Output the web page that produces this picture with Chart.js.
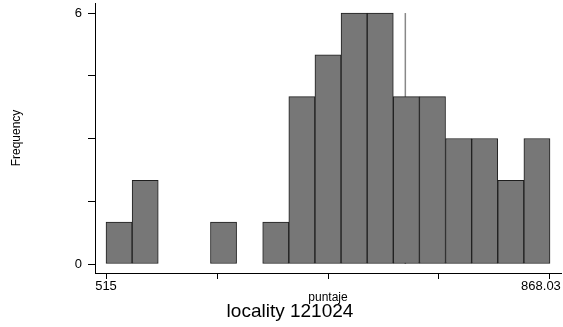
<!DOCTYPE html>
<html>
<head>
<meta charset="utf-8">
<script src="https://cdn.jsdelivr.net/npm/chart.js@4/dist/chart.umd.min.js"></script>
<style>
  body { margin: 0; background: #fff; }
  #wrap { width: 563px; height: 327px; }
</style>
</head>
<body>
<div id="wrap"><canvas id="histChart"></canvas></div>
<script>
// histogram of puntaje, 17 bins between 515 and 868.03
const binStart = 515;
const binEnd = 868.03;
const counts = [1, 2, 0, 0, 1, 0, 1, 4, 5, 6, 6, 4, 4, 3, 3, 2, 3];
const refLine = 753;

const xTicks = [515, 603.2575, 691.515, 779.7725, 868.03];
// trailing spaces push the last label left so it stays inside the canvas
const xTickLabels = ["515", "", "", "", "868.03     "];
const yTicks = [0, 1.5, 3, 4.5, 6];
const yTickLabels = ["0", "", "", "", "6"];

const captionText = "locality 121024";
const fontFamily = '"Liberation Sans", Arial, Helvetica, sans-serif';

let binWidth = (binEnd - binStart) / counts.length;
let barData = counts.map((c, i) => ({ x: binStart + binWidth * (i + 0.5), y: c }));

// no extra room for the end labels, the plot box is fixed
function noLabelPadding(s) {
    s.paddingTop = 0;
    s.paddingBottom = 0;
    s.paddingLeft = 0;
    s.paddingRight = 0;
}

const captionPlugin = {
    id: "caption",
    afterDraw(chart) {
        let ctx = chart.ctx;
        ctx.save();
        ctx.font = "19px " + fontFamily;
        ctx.fillStyle = "#000";
        ctx.textAlign = "center";
        ctx.textBaseline = "middle";
        ctx.fillText(captionText, 290, 312);
        ctx.restore();
    }
};

new Chart(document.getElementById("histChart"), {
    type: "bar",
    data: {
        datasets: [{
            data: barData,
            backgroundColor: "#777777",
            borderColor: "#1e1e1e",
            borderWidth: 1,
            borderSkipped: false,
            barPercentage: 1,
            categoryPercentage: 1,
            order: 1
        }, {
            type: "line",
            data: [{ x: refLine, y: 0 }, { x: refLine, y: 6 }],
            borderColor: "#888888",
            borderWidth: 1.5,
            pointRadius: 0,
            order: 2
        }]
    },
    options: {
        responsive: true,
        maintainAspectRatio: false,
        animation: false,
        layout: { padding: { top: 3, right: 2, left: 0, bottom: 0 } },
        plugins: {
            legend: { display: false },
            tooltip: { enabled: false }
        },
        scales: {
            x: {
                type: "linear",
                min: 506.25,
                max: 876.78,
                offset: false,
                afterBuildTicks: s => { s.ticks = xTicks.map(v => ({ value: v })); },
                afterFit: s => { s.height = 54; noLabelPadding(s); },
                ticks: {
                    autoSkip: false,
                    maxRotation: 0,
                    padding: 0,
                    color: "#000",
                    font: { family: fontFamily, size: 13 },
                    callback: (v, i) => xTickLabels[i]
                },
                grid: { drawOnChartArea: false, drawTicks: true, tickLength: 6, color: "#000", offset: false },
                border: { display: true, color: "#000", width: 1 },
                title: {
                    display: true,
                    text: "puntaje",
                    color: "#000",
                    font: { family: fontFamily, size: 12 },
                    padding: { top: 0, bottom: 22 }
                }
            },
            y: {
                min: -0.215,
                max: 6.24,
                afterBuildTicks: s => { s.ticks = yTicks.map(v => ({ value: v })); },
                afterFit: s => { s.width = 95; noLabelPadding(s); },
                ticks: {
                    padding: 6,
                    color: "#000",
                    font: { family: fontFamily, size: 13 },
                    callback: (v, i) => yTickLabels[i]
                },
                grid: { drawOnChartArea: false, drawTicks: true, tickLength: 7, color: "#000" },
                border: { display: true, color: "#000", width: 1 },
                title: {
                    display: true,
                    text: "Frequency",
                    color: "#000",
                    font: { family: fontFamily, size: 12 },
                    padding: { top: 9, bottom: 0 }
                }
            }
        }
    },
    plugins: [captionPlugin]
});
</script>
</body>
</html>
